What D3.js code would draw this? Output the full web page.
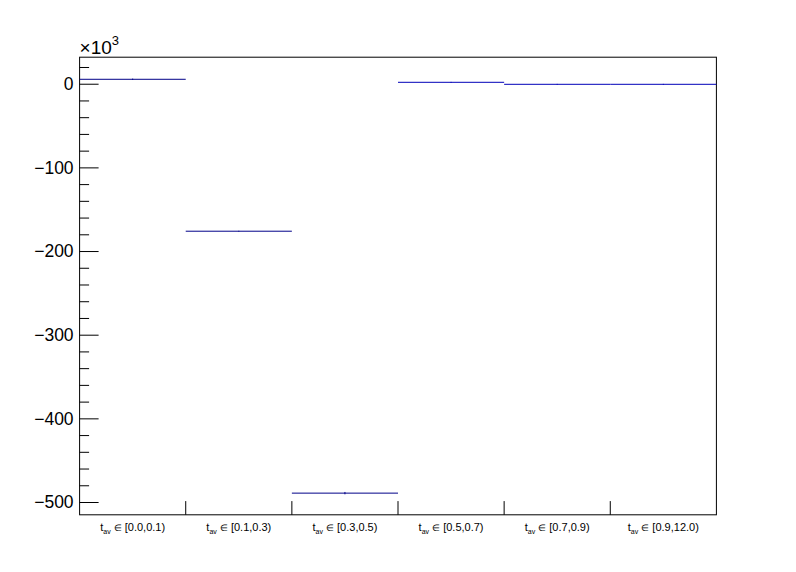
<!DOCTYPE html>
<html>
<head>
<meta charset="utf-8">
<script src="https://cdn.jsdelivr.net/npm/d3@7"></script>
<style>
  body { margin: 0; background: #fff; }
  text { font-family: "Liberation Sans", Arial, sans-serif; }
</style>
</head>
<body>
<div id="chart"></div>
<script>
// bin labels (t_av ranges) and contents in units of 10^3
const binRanges = ["[0.0,0.1)", "[0.1,0.3)", "[0.3,0.5)", "[0.5,0.7)", "[0.7,0.9)", "[0.9,12.0)"];
const binValues = [5.3, -176.3, -489.4, 1.7, -0.7, -0.7];
const binErrors = [0.8, 0.5, 1.4, 0.5, 0.5, 0.5];
const yTicks = [0, -100, -200, -300, -400, -500];

const widthValue = 796;
const heightValue = 572;
const margin = { top: 57.2, right: 79.6, bottom: 57.2, left: 79.6 };
const width = widthValue - margin.left - margin.right;
const height = heightValue - margin.top - margin.bottom;

const svg = d3.select("#chart")
  .append("svg")
  .attr("width", widthValue)
  .attr("height", heightValue);

const g = svg.append("g")
  .attr("transform", `translate(${margin.left}, ${margin.top})`);

const xScale = d3.scaleBand()
  .domain(binRanges)
  .range([0, width])
  .padding(0);

const yScale = d3.scaleLinear()
  .domain([-515.3, 31.7])
  .range([height, 0]);

// frame
g.append("rect")
  .attr("width", width)
  .attr("height", height)
  .attr("fill", "none")
  .attr("stroke", "#000")
  .attr("stroke-width", 1);

// y axis: major + minor ticks drawn inward
const yAxis = g.append("g")
  .call(d3.axisRight(yScale)
    .tickValues(d3.range(-500, 31, 20))
    .tickSize(0)
    .tickFormat(""));
yAxis.select(".domain").remove();
yAxis.selectAll(".tick line")
  .attr("x2", d => (d % 100 === 0 ? 19 : 9.5))
  .attr("stroke", "#000");

g.append("g")
  .selectAll("text")
  .data(yTicks)
  .enter()
  .append("text")
    .attr("x", -6)
    .attr("y", d => yScale(d))
    .attr("dy", "0.36em")
    .attr("text-anchor", "end")
    .attr("font-size", 17.5)
    .text(d => d3.format("d")(d).replace("-", "\u2212"));

// multiplier
const mult = svg.append("text")
  .attr("x", margin.left)
  .attr("y", 54)
  .attr("font-size", 19);
mult.append("tspan").text("\u00d710");
mult.append("tspan").attr("font-size", 13).attr("dy", -9).text("3");

// x axis ticks at bin edges
const edges = binRanges.map(d => xScale(d)).concat([width]);
g.append("g")
  .selectAll("line")
  .data(edges.slice(1, -1))
  .enter()
  .append("line")
    .attr("x1", d => d)
    .attr("x2", d => d)
    .attr("y1", height)
    .attr("y2", height - 13.7)
    .attr("stroke", "#000");

// x labels
const xl = g.append("g")
  .selectAll("text")
  .data(binRanges)
  .enter()
  .append("text")
    .attr("x", d => xScale(d) + xScale.bandwidth() / 2)
    .attr("y", height + 16)
    .attr("text-anchor", "middle")
    .attr("font-size", 11);
xl.append("tspan").text("t");
xl.append("tspan").attr("font-size", 7).attr("dy", 3).text("av");
xl.append("tspan").attr("dy", -3).text(" ");
xl.append("tspan").attr("font-size", 8.5).text("\u2208");
xl.append("tspan").text(d => " " + d);

// histogram contents
const bins = binRanges.map((r, i) => ({ r: r, v: binValues[i], e: binErrors[i], i: i }));
const lineColor = d => (d.i < 3 ? "#000088" : "#0000b8");
const marks = g.append("g");
marks.selectAll("line.h")
  .data(bins)
  .enter()
  .append("line")
    .attr("class", "h")
    .attr("x1", d => xScale(d.r))
    .attr("x2", d => xScale(d.r) + xScale.bandwidth())
    .attr("y1", d => yScale(d.v))
    .attr("y2", d => yScale(d.v))
    .attr("stroke", lineColor)
    .attr("stroke-width", 1);
marks.selectAll("line.e")
  .data(bins)
  .enter()
  .append("line")
    .attr("class", "e")
    .attr("x1", d => xScale(d.r) + xScale.bandwidth() / 2)
    .attr("x2", d => xScale(d.r) + xScale.bandwidth() / 2)
    .attr("y1", d => yScale(d.v - d.e))
    .attr("y2", d => yScale(d.v + d.e))
    .attr("stroke", lineColor)
    .attr("stroke-width", 1);
</script>
</body>
</html>
